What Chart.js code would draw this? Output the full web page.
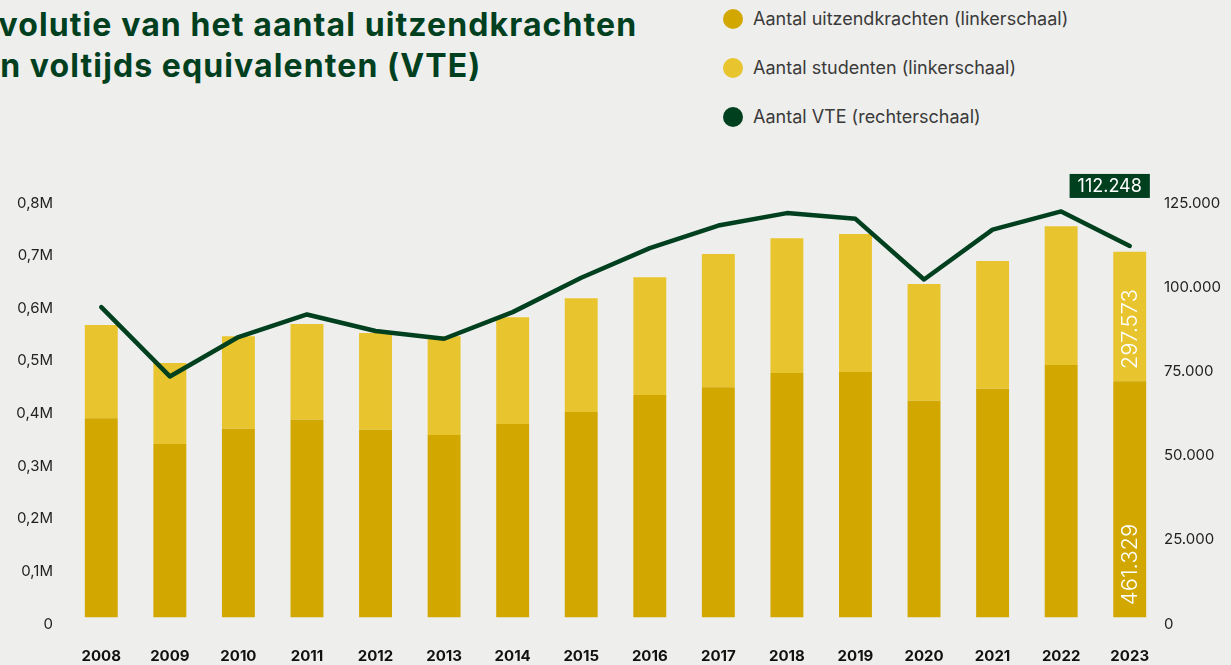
<!DOCTYPE html>
<html>
<head>
<meta charset="utf-8">
<script src="https://cdn.jsdelivr.net/npm/chart.js@4"></script>
<style>
  html, body { margin: 0; padding: 0; background: #eeeeec; overflow: hidden; }
  #wrap { position: relative; width: 1231px; height: 665px; overflow: hidden; }
  #chart { position: absolute; left: 0; top: 0; }
  .title { position: absolute; font-family: 'Inter', sans-serif; font-weight: 700; font-size: 32px;
           color: #00401f; white-space: nowrap; letter-spacing: 1.1px; line-height: 40px; }
  .legend { position: absolute; left: 723px; font-family: 'Inter', sans-serif; font-size: 18px;
            color: #3a3a3a; white-space: nowrap; line-height: 24px; }
  .legend span.dot { position: absolute; left: 0; top: 50%; width: 20px; height: 20px; margin-top: -10px;
                     border-radius: 50%; }
  .legend span.txt { margin-left: 30px; }
</style>
</head>
<body>
<div id="wrap">
  <!-- the first letter of each title line is cut off by the left edge, as in the source -->
  <div class="title" style="top:5px; left:-22px;">Evolutie van het aantal uitzendkrachten</div>
  <div class="title" style="top:46px; left:-20px;">en voltijds equivalenten (VTE)</div>

  <div class="legend" style="top:7px;"><span class="dot" style="background:#d2a800"></span><span class="txt">Aantal uitzendkrachten (linkerschaal)</span></div>
  <div class="legend" style="top:56px;"><span class="dot" style="background:#e8c42e"></span><span class="txt">Aantal studenten (linkerschaal)</span></div>
  <div class="legend" style="top:105px;"><span class="dot" style="background:#00401f"></span><span class="txt">Aantal VTE (rechterschaal)</span></div>

  <canvas id="chart" width="1231" height="665"></canvas>
</div>
<script>
// Data
const years = ['2008', '2009', '2010', '2011', '2012', '2013', '2014', '2015',
               '2016', '2017', '2018', '2019', '2020', '2021', '2022', '2023'];
const uitzendkrachten = [391000, 342000, 371000, 388000, 369000, 359000, 380000, 403000,
                         435000, 450000, 477000, 479000, 424000, 447000, 492000, 461329];
const studenten = [177000, 154000, 176000, 182000, 184000, 188000, 203000, 216000,
                   224000, 253000, 256000, 262000, 222000, 243000, 264000, 246000];
const vte = [94100, 73500, 85200, 91900, 87000, 84700, 92600, 102800,
             111600, 118300, 122000, 120300, 102300, 117100, 122500, 112248];
// labels shown on the last bars (as printed in the source)
const lastBarLabels = ['461.329', '297.573'];
const lastVteLabel = '112.248';

const cGold = '#d2a800';
const cYellow = '#e8c42e';
const cGreen = '#00401f';

function fmtDots(v) {
    return v.toString().replace(/\B(?=(\d{3})+(?!\d))/g, '.');
}

const labelPlugin = {
    id: 'labelPlugin',
    afterDatasetsDraw(chart) {
        const ctx = chart.ctx;
        const last = years.length - 1;

        // rotated labels inside the 2023 bars
        [0, 1].forEach(di => {
            const bar = chart.getDatasetMeta(di).data[last];
            ctx.save();
            ctx.translate(bar.x, bar.base - 12);
            ctx.rotate(-Math.PI / 2);
            ctx.fillStyle = '#ffffff';
            ctx.font = '300 22px Inter';
            ctx.textAlign = 'left';
            ctx.textBaseline = 'middle';
            ctx.fillText(lastBarLabels[di], 0, 1);
            ctx.restore();
        });

        // boxed value above the last VTE point
        const pt = chart.getDatasetMeta(2).data[last];
        ctx.save();
        ctx.font = '400 18px Inter';
        const w = ctx.measureText(lastVteLabel).width + 16;
        const cx = pt.x - 20, cy = pt.y - 60;
        ctx.fillStyle = cGreen;
        ctx.fillRect(cx - w / 2, cy - 12, w, 24);
        ctx.fillStyle = '#ffffff';
        ctx.textAlign = 'center';
        ctx.textBaseline = 'middle';
        ctx.fillText(lastVteLabel, cx, cy + 1);
        ctx.restore();
    }
};

new Chart(document.getElementById('chart'), {
    type: 'bar',
    data: {
        labels: years,
        datasets: [
            {
                label: 'Aantal uitzendkrachten (linkerschaal)',
                data: uitzendkrachten,
                backgroundColor: cGold,
                base: 13000, // bars sit slightly above the axis line in the source
                stack: 'a',
                yAxisID: 'y',
                order: 2,
                barPercentage: 0.48,
                categoryPercentage: 1
            },
            {
                label: 'Aantal studenten (linkerschaal)',
                data: studenten,
                backgroundColor: cYellow,
                stack: 'a',
                yAxisID: 'y',
                order: 2,
                barPercentage: 0.48,
                categoryPercentage: 1
            },
            {
                type: 'line',
                label: 'Aantal VTE (rechterschaal)',
                data: vte,
                borderColor: cGreen,
                borderWidth: 4.5,
                borderCapStyle: 'round',
                borderJoinStyle: 'round',
                pointRadius: 0,
                tension: 0,
                yAxisID: 'y1',
                order: 1
            }
        ]
    },
    options: {
        responsive: false,
        animation: false,
        layout: { padding: { top: 203, left: 0, right: 0, bottom: 0 } },
        plugins: {
            legend: { display: false },
            tooltip: { enabled: false }
        },
        scales: {
            x: {
                stacked: true,
                grid: { display: false, drawTicks: false },
                border: { display: false },
                ticks: { color: '#111', font: { family: 'Inter', size: 15, weight: '700' }, padding: 23, maxRotation: 0 },
                afterFit: s => { s.height = 41; }
            },
            y: {
                stacked: true,
                position: 'left',
                min: 0,
                max: 800000,
                grid: { display: false, drawTicks: false },
                border: { display: false },
                ticks: {
                    stepSize: 100000,
                    color: '#222',
                    font: { family: 'Inter', size: 15 },
                    padding: 14,
                    callback: v => v === 0 ? '0' : (v / 1000000).toFixed(1).replace('.', ',') + 'M'
                },
                afterFit: s => { s.width = 67; }
            },
            y1: {
                position: 'right',
                min: 0,
                max: 125000,
                grid: { display: false, drawTicks: false },
                border: { display: false },
                ticks: {
                    stepSize: 25000,
                    color: '#222',
                    font: { family: 'Inter', size: 15 },
                    padding: 0,
                    callback: v => fmtDots(v)
                },
                afterFit: s => { s.width = 67; }
            }
        }
    },
    plugins: [labelPlugin]
});
</script>
</body>
</html>
